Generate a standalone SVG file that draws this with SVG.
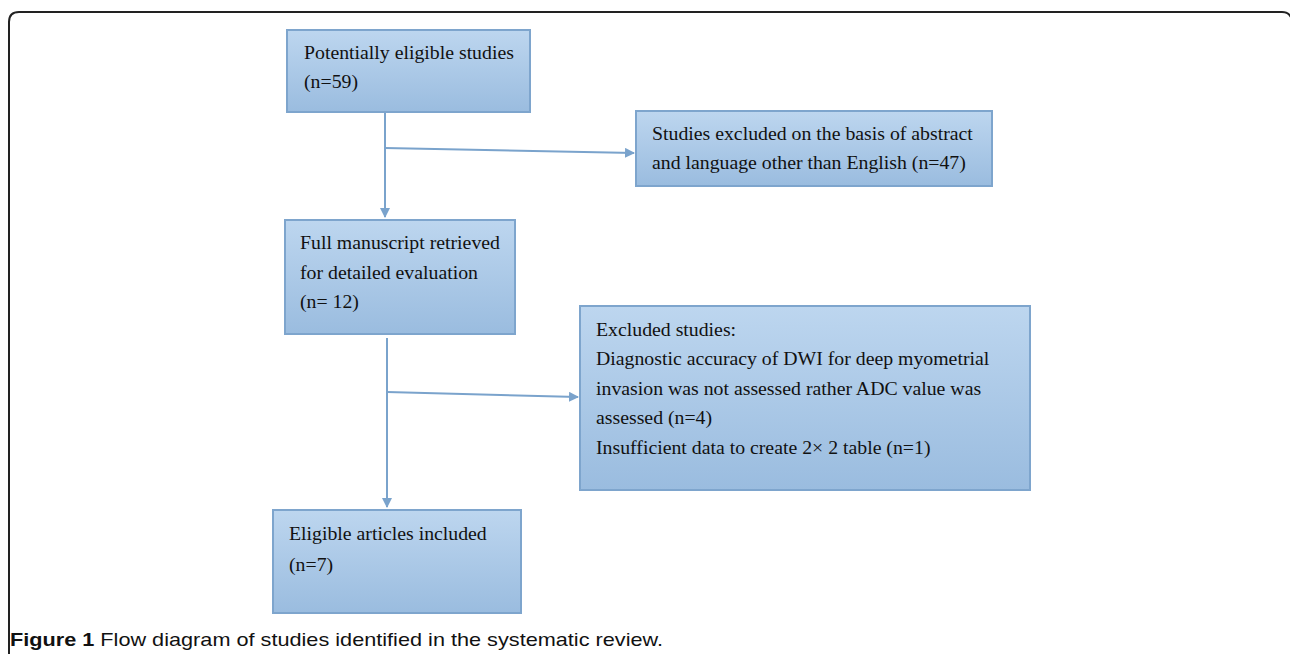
<svg xmlns="http://www.w3.org/2000/svg" width="1290" height="654" viewBox="0 0 1290 654">
<defs>
<linearGradient id="g" x1="0" y1="0" x2="0" y2="1">
<stop offset="0" stop-color="#bdd6ef"/>
<stop offset="1" stop-color="#9abcdf"/>
</linearGradient>
<marker id="arr" markerWidth="10" markerHeight="10" refX="9" refY="5" orient="auto" markerUnits="userSpaceOnUse">
<path d="M0,0 L10,5 L0,10 z" fill="#7aa3cc"/>
</marker>
<style>
.box{fill:url(#g);stroke:#7ea5cd;stroke-width:2}
.t{font-family:"Liberation Serif","Times New Roman",serif;font-size:19.8px;fill:#111}
.c{stroke:#7aa3cc;stroke-width:2;fill:none}
.cap{font-family:"Liberation Sans",Arial,sans-serif;font-size:19px;fill:#111}
</style>
</defs>
<rect width="1290" height="654" fill="#fff"/>
<path d="M9,660 L9,22 Q9,12 19,12 L1282,12 Q1290,12 1292,20" fill="none" stroke="#222" stroke-width="2"/>
<g id="connectors">
<path class="c" d="M385,112 L385,217" marker-end="url(#arr)"/>
<path class="c" d="M385,148 L634,153" marker-end="url(#arr)"/>
<path class="c" d="M387,338 L387,507" marker-end="url(#arr)"/>
<path class="c" d="M387,392 L578,397" marker-end="url(#arr)"/>
</g>
<g id="n1">
<rect class="box" x="287" y="30" width="243" height="82"/>
<text class="t" x="304" y="59">Potentially eligible studies</text>
<text class="t" x="304" y="88">(n=59)</text>
</g>
<g id="n2">
<rect class="box" x="636" y="111" width="356" height="75"/>
<text class="t" x="652" y="140">Studies excluded on the basis of abstract</text>
<text class="t" x="652" y="169">and language other than English (n=47)</text>
</g>
<g id="n3">
<rect class="box" x="285" y="220" width="230" height="114"/>
<text class="t" x="300" y="249">Full manuscript retrieved</text>
<text class="t" x="300" y="279">for detailed evaluation</text>
<text class="t" x="300" y="308">(n= 12)</text>
</g>
<g id="n4">
<rect class="box" x="580" y="306" width="450" height="184"/>
<text class="t" x="596" y="336">Excluded studies:</text>
<text class="t" x="596" y="365">Diagnostic accuracy of DWI for deep myometrial</text>
<text class="t" x="596" y="395">invasion was not assessed rather ADC value was</text>
<text class="t" x="596" y="424">assessed (n=4)</text>
<text class="t" x="596" y="454">Insufficient data to create 2× 2 table (n=1)</text>
</g>
<g id="n5">
<rect class="box" x="273" y="510" width="248" height="103"/>
<text class="t" x="289" y="540">Eligible articles included</text>
<text class="t" x="289" y="571">(n=7)</text>
</g>
<text class="cap" x="10" y="646" textLength="653" lengthAdjust="spacingAndGlyphs"><tspan font-weight="bold">Figure 1</tspan> Flow diagram of studies identified in the systematic review.</text>
</svg>
